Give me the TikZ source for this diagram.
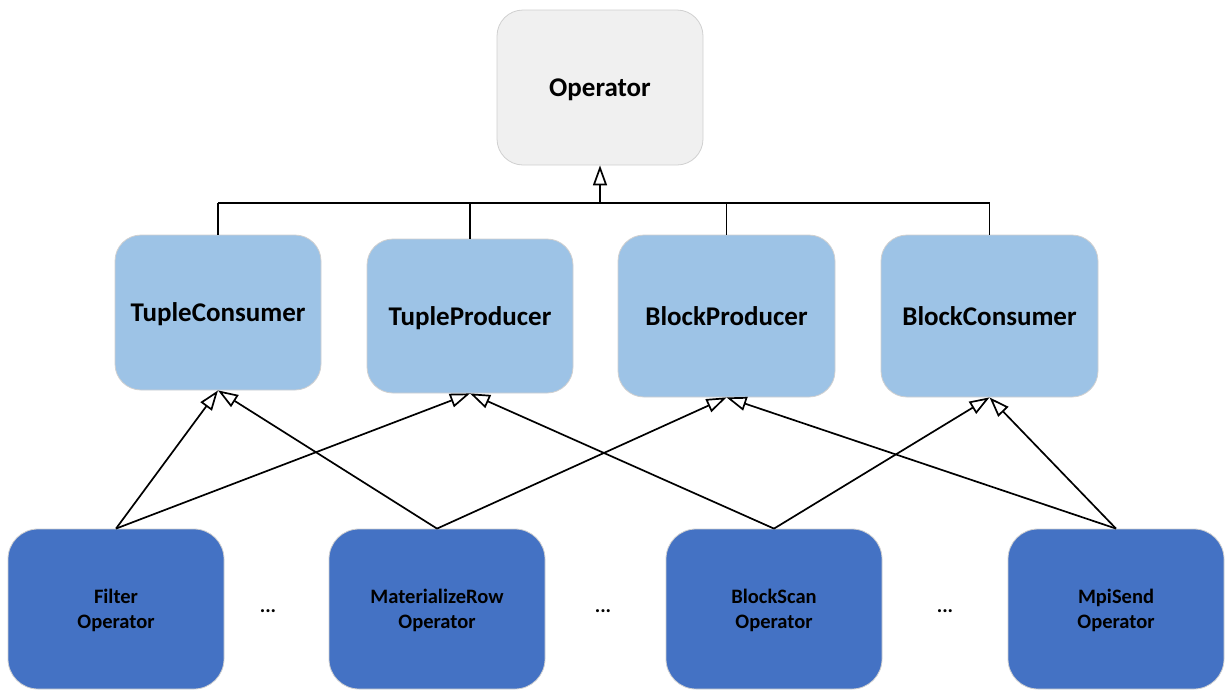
\documentclass[tikz,border=0pt]{standalone}
\usepackage{fontspec}
\setmainfont{Carlito}
\usetikzlibrary{arrows.meta}
\definecolor{topfill}{HTML}{F0F0F0}
\definecolor{midfill}{HTML}{9DC3E6}
\definecolor{lowfill}{HTML}{4472C4}
\definecolor{edgegray}{HTML}{D0D0D0}
\tikzset{
  box/.style={draw=edgegray, line width=0.8pt, rounded corners=26pt, align=center,
              text depth=0pt,
              font=\fontsize{27}{32}\selectfont\bfseries, text=black},
  basebox/.style={box, fill=topfill, minimum width=206pt, minimum height=155pt},
  ifacebox/.style={box, fill=midfill},
  opbox/.style={box, fill=lowfill, rounded corners=30pt, minimum width=216pt, minimum height=160pt,
                font=\fontsize{20.5}{25}\selectfont\bfseries},
  inherit/.style={draw=black, line width=1.7pt,
                  -{Triangle[open, length=20pt, width=14pt, line width=1.7pt]}},
  link/.style={draw=black, line width=1.7pt},
  dots/.style={font=\fontsize{20.5}{25}\selectfont\bfseries}
}
\begin{document}
\begin{tikzpicture}[x=1pt, y=-1pt]
\useasboundingbox (0,0) rectangle (1225,691);

% base class
\node[basebox] (op) at (600,87.5) {Operator};

% interfaces
\node[ifacebox, minimum width=206pt, minimum height=155pt] (tc) at (218,312.5) {TupleConsumer};
\node[ifacebox, minimum width=206pt, minimum height=154pt] (tp) at (470,316) {TupleProducer};
\node[ifacebox, minimum width=217pt, minimum height=162pt] (bp) at (726.5,316) {BlockProducer};
\node[ifacebox, minimum width=217pt, minimum height=162pt] (bc) at (989.5,316) {BlockConsumer};

% concrete operators
\node[opbox] (filter) at (116,609) {Filter\\Operator};
\node[opbox] (matrow) at (437,609) {MaterializeRow\\Operator};
\node[opbox] (bscan) at (774,609) {BlockScan\\Operator};
\node[opbox] (mpisend) at (1116,609) {MpiSend\\Operator};

\node[dots] (d1) at (268,611) {...};
\node[dots] (d2) at (603,611) {...};
\node[dots] (d3) at (945,611) {...};

% inheritance bus to Operator
\coordinate (busl) at (218,203);
\coordinate (busr) at (990,203);
\coordinate (busm) at (600,203);
\draw[link] (busl) -- (busr);
\draw[link] (tc.north) -- (tc.north |- busl);
\draw[link] (tp.north) -- (tp.north |- busl);
\draw[link] (bp.north) -- (bp.north |- busl);
\draw[link] (bc.north) -- (bc.north |- busl);
\draw[inherit] (busm) -- (op.south);

% operators implementing interfaces
\draw[inherit] (filter.north) -- (tc.south);
\draw[inherit] (filter.north) -- (tp.south);
\draw[inherit] (matrow.north) -- (tc.south);
\draw[inherit] (matrow.north) -- (bp.south);
\draw[inherit] (bscan.north) -- (tp.south);
\draw[inherit] (bscan.north) -- (bc.south);
\draw[inherit] (mpisend.north) -- (bp.south);
\draw[inherit] (mpisend.north) -- (bc.south);
\end{tikzpicture}
\end{document}
